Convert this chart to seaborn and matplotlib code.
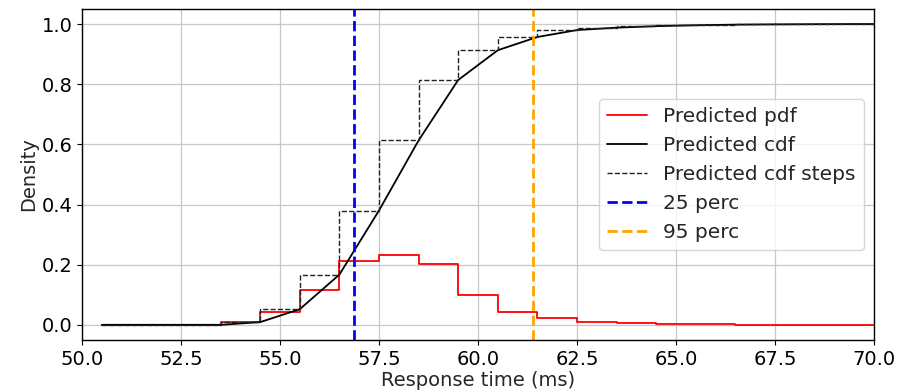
import matplotlib
matplotlib.use('Agg')
import matplotlib.pyplot as plt
import numpy as np
import pandas as pd
import seaborn as sns

# ビン（幅 1 ms）の左端と予測 pdf
bin_left = [50.5, 51.5, 52.5, 53.5, 54.5, 55.5, 56.5, 57.5, 58.5, 59.5,
            60.5, 61.5, 62.5, 63.5, 64.5, 65.5, 66.5, 67.5, 68.5, 69.5]
pdf_vals = [0.0, 0.0, 0.0, 0.009, 0.043, 0.115, 0.213, 0.233, 0.201, 0.099,
            0.044, 0.023, 0.008, 0.005, 0.003, 0.002, 0.001, 0.0006, 0.0004, 0.0002]
BIN_WIDTH = 1.0
PERC_25 = 56.88
PERC_95 = 61.38

sns.set_style('whitegrid')
plt.rcParams.update({
    'font.family': ['DejaVu Sans'],
    'font.size': 14,
    'axes.edgecolor': 'black',
    'axes.linewidth': 1.0,
    'grid.color': '#c8c8c8',
    'grid.linewidth': 0.9,
    'xtick.bottom': True,
    'ytick.left': True,
    'xtick.major.size': 3.5,
    'ytick.major.size': 3.5,
    'xtick.color': 'black',
    'ytick.color': 'black',
    'xtick.labelsize': 14,
    'ytick.labelsize': 14,
    'axes.labelsize': 14,
    'legend.fontsize': 14.5,
})

cdf_vals = np.minimum(np.cumsum(pdf_vals), 1.0)
edges = bin_left + [bin_left[-1] + BIN_WIDTH]

# step 用に最後の値を繰り返す
df_step = pd.DataFrame({
    'x': edges,
    'pdf': pdf_vals + [pdf_vals[-1]],
    'cdf_step': list(cdf_vals) + [cdf_vals[-1]],
})
# 滑らかな cdf はビン右端で評価
df_cdf = pd.DataFrame({'x': edges, 'cdf': [0.0] + list(cdf_vals)})

fig = plt.figure(figsize=(9.1, 3.92), dpi=100)
ax = fig.add_axes([0.0901, 0.133, 0.8703, 0.844])

sns.lineplot(data=df_step, x='x', y='pdf', ax=ax, color='red', lw=1.3,
             drawstyle='steps-post', label='Predicted pdf')
sns.lineplot(data=df_cdf, x='x', y='cdf', ax=ax, color='black', lw=1.3,
             label='Predicted cdf')
sns.lineplot(data=df_step, x='x', y='cdf_step', ax=ax, color='#222222', lw=1.0,
             linestyle='--', drawstyle='steps-post', label='Predicted cdf steps')
ax.axvline(PERC_25, color='blue', ls='--', lw=2, label='25 perc')
ax.axvline(PERC_95, color='orange', ls='--', lw=2, label='95 perc')

ax.set_xlim(50, 70)
ax.set_ylim(-0.05, 1.05)
ax.set_xticks(np.arange(50, 70.1, 2.5))
ax.set_yticks(np.arange(0, 1.01, 0.2))
ax.set_xlabel('Response time (ms)', labelpad=2)
ax.set_ylabel('Density', labelpad=2)
ax.legend(loc='center right', frameon=True)

fig.savefig('out.png', dpi=100)
